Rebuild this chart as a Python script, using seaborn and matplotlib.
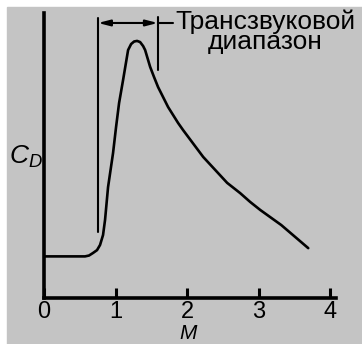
import numpy as np
import pandas as pd
import seaborn as sns
import matplotlib.pyplot as plt
from matplotlib.patches import Rectangle

# drag coefficient vs Mach number (arbitrary units)
mach = [0.0, 0.573, 0.629, 0.685, 0.741, 0.783, 0.825, 0.853, 0.895, 0.965,
        1.007, 1.049, 1.105, 1.175, 1.217, 1.259, 1.301, 1.343, 1.385, 1.413,
        1.483, 1.538, 1.594, 1.734, 1.874, 1.944, 2.224, 2.559, 2.741, 2.881,
        3.021, 3.315, 3.692]
cd = [0.146, 0.146, 0.149, 0.158, 0.168, 0.186, 0.221, 0.274, 0.389, 0.509,
      0.600, 0.684, 0.765, 0.870, 0.891, 0.900, 0.902, 0.898, 0.884, 0.870,
      0.811, 0.775, 0.740, 0.670, 0.614, 0.589, 0.495, 0.404, 0.368, 0.337,
      0.309, 0.256, 0.175]

transonic_lo, transonic_hi = 0.755, 1.59
xticks = [0, 1, 2, 3, 4]
label_text = "Трансзвуковой\nдиапазон"

df = pd.DataFrame({"M": mach, "CD": cd})

sns.set_style("ticks")
plt.rcParams['font.family'] = ['Liberation Sans', 'DejaVu Sans']
plt.rcParams['text.color'] = 'black'
plt.rcParams['axes.labelcolor'] = 'black'
plt.rcParams['mathtext.fontset'] = 'custom'
plt.rcParams['mathtext.it'] = 'Liberation Sans:italic'
plt.rcParams['mathtext.rm'] = 'Liberation Sans'

fig = plt.figure(figsize=(3.62, 3.44), dpi=100, facecolor='white')
bg = Rectangle((7 / 362, 0), 1 - 7 / 362, 337 / 344,
               transform=fig.transFigure, color='#c4c4c4', zorder=-10)
fig.patches.append(bg)

ax = fig.add_axes([44 / 362, 46 / 344, 292 / 362, 285 / 344])
ax.set_zorder(5)
ax.set_facecolor('none')

sns.lineplot(data=df, x="M", y="CD", sort=False, estimator=None,
             color='black', linewidth=1.9, ax=ax)

ax.set_xlim(0, 4.08)
ax.set_ylim(0, 1)
sns.despine(ax=ax)
for side in ['left', 'bottom']:
    ax.spines[side].set_linewidth(2.6)
    ax.spines[side].set_color('black')
ax.set_yticks([])
ax.set_xticks(xticks)
ax.set_xticklabels([str(t) for t in xticks])
ax.tick_params(axis='x', direction='in', length=7.5, width=2.2, pad=2,
               labelsize=17, colors='black')
ax.set_xlabel("")
ax.set_ylabel("")
fig.text(188 / 362, 1 - 343 / 344, "M", fontsize=15, style='italic',
         va='bottom', ha='center', zorder=6)
fig.text(9 / 362, 1 - 157 / 344, "$C_D$", fontsize=19, va='center', ha='left',
         zorder=6)

# transonic range markers
ax.plot([transonic_lo, transonic_lo], [0.232, 0.982], color='black', lw=1.5)
ax.plot([transonic_hi, transonic_hi], [0.80, 0.985], color='black', lw=1.5)
ax.annotate("", xy=(transonic_lo, 0.965), xytext=(transonic_hi, 0.965),
            arrowprops=dict(arrowstyle='<|-|>,head_length=0.7,head_width=0.18',
                            color='black', lw=1.5, shrinkA=0, shrinkB=0))
ax.plot([transonic_hi, 1.80], [0.965, 0.965], color='black', lw=1.5, clip_on=False)
ax.text(3.09, 0.935, label_text, ha='center', va='center', fontsize=19,
        linespacing=0.8, clip_on=False)

fig.savefig("out.png", dpi=100)
